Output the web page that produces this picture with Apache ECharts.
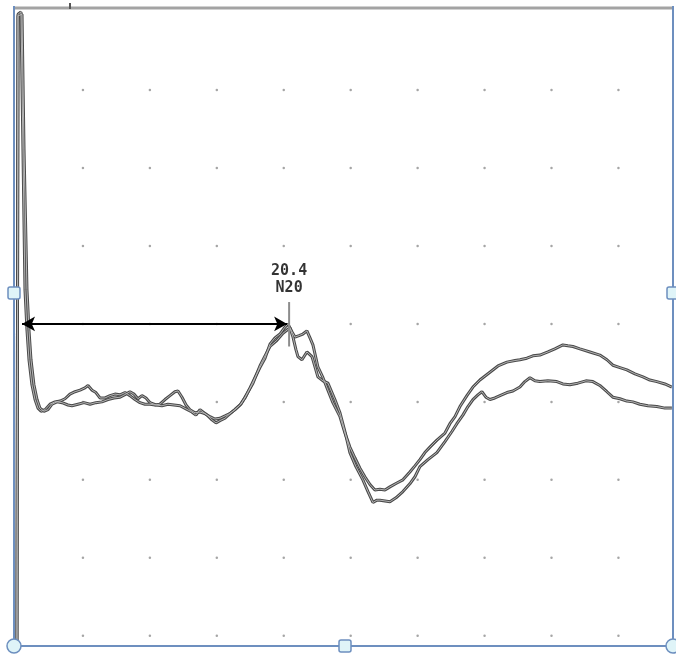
<!DOCTYPE html>
<html>
<head>
<meta charset="utf-8">
<title>N20</title>
<script src="https://cdn.jsdelivr.net/npm/echarts@6/dist/echarts.min.js"></script>
<style>
  html, body { margin: 0; padding: 0; background: #fff; }
  #chart { width: 676px; height: 657px; }
</style>
</head>
<body>
<div id="chart"></div>
<script>
// time in ms, amplitude in grid divisions
const timeA = [0.07, 0.15, 0.37, 0.52, 0.67, 0.82, 0.97, 1.19, 1.42, 1.64, 1.87, 2.17, 2.54, 2.91, 3.29, 3.66, 4.03, 4.41, 4.78, 5.15,
  5.38, 5.68, 5.97, 6.27, 6.65, 7.02, 7.39, 7.77, 8.14, 8.51, 8.89, 9.26, 9.63, 10.01, 10.38, 10.75, 11.13, 11.50, 11.87, 12.10,
  12.40, 12.70, 12.99, 13.37, 13.74, 14.11, 14.49, 14.86, 15.23, 15.61, 15.98, 16.35, 16.73, 17.10, 17.48, 17.85, 18.22, 18.60, 18.97, 19.34,
  19.72, 20.01, 20.31, 20.61, 20.84, 21.14, 21.43, 21.73, 21.96, 22.18, 22.55, 22.93, 23.23, 23.67, 24.20, 24.57, 24.94, 25.32, 25.69, 26.06,
  26.44, 26.81, 27.18, 27.56, 27.93, 28.45, 28.90, 29.42, 29.80, 30.17, 30.54, 30.92, 31.44, 32.04, 32.41, 32.79, 33.16, 33.68, 34.13, 34.65,
  35.40, 36.00, 36.67, 37.27, 37.64, 38.16, 38.61, 39.13, 39.73, 40.25, 40.85, 41.22, 41.60, 42.12, 42.87, 43.61, 44.14, 44.58, 45.11, 45.63,
  46.23, 46.83, 47.35, 47.87, 48.47, 48.99]
const ampA = [-4.18, 3.97, 4.00, 2.23, 0.44, -0.08, -0.46, -0.78, -0.97, -1.08, -1.12, -1.10, -1.03, -1.00, -0.99, -0.96, -0.90, -0.87, -0.85, -0.82,
  -0.79, -0.85, -0.88, -0.95, -0.95, -0.92, -0.90, -0.91, -0.88, -0.92, -0.97, -1.01, -1.03, -1.03, -1.04, -1.03, -0.97, -0.92, -0.87, -0.86,
  -0.94, -1.04, -1.10, -1.14, -1.13, -1.15, -1.19, -1.22, -1.21, -1.18, -1.15, -1.10, -1.04, -0.95, -0.82, -0.69, -0.56, -0.44, -0.26, -0.18,
  -0.13, -0.06, 0.00, -0.10, -0.17, -0.15, -0.13, -0.09, -0.18, -0.27, -0.55, -0.69, -0.82, -1.01, -1.19, -1.40, -1.58, -1.72, -1.85, -1.96,
  -2.06, -2.13, -2.12, -2.13, -2.09, -2.04, -2.00, -1.90, -1.82, -1.74, -1.65, -1.58, -1.49, -1.40, -1.28, -1.19, -1.06, -0.92, -0.81, -0.72,
  -0.62, -0.54, -0.49, -0.47, -0.46, -0.44, -0.41, -0.40, -0.36, -0.32, -0.27, -0.28, -0.29, -0.32, -0.36, -0.40, -0.46, -0.53, -0.56, -0.59,
  -0.64, -0.68, -0.72, -0.74, -0.77, -0.81]

const timeB = [0.07, 0.15, 0.45, 0.60, 0.82, 0.97, 1.12, 1.34, 1.57, 1.79, 2.09, 2.39, 2.69, 3.06, 3.44, 3.88, 4.18, 4.63, 5.08, 5.53,
  5.97, 6.42, 6.87, 7.32, 7.77, 8.21, 8.51, 8.81, 9.11, 9.41, 9.71, 10.01, 10.46, 10.90, 11.35, 11.80, 12.25, 12.70, 13.14, 13.44,
  13.74, 14.04, 14.34, 14.64, 14.94, 15.23, 15.61, 15.98, 16.35, 16.80, 17.18, 17.70, 18.22, 18.60, 18.97, 19.49, 19.94, 20.46, 20.69, 20.91,
  21.06, 21.36, 21.73, 22.11, 22.55, 22.93, 23.30, 23.82, 24.20, 24.57, 24.94, 25.39, 25.91, 26.29, 26.66, 26.96, 27.18, 27.56, 27.93, 28.38,
  28.90, 29.42, 29.80, 30.17, 30.77, 31.44, 32.04, 32.56, 32.93, 33.38, 33.76, 34.13, 34.50, 34.80, 35.10, 35.40, 35.77, 36.15, 36.67, 37.12,
  37.64, 38.01, 38.39, 38.76, 39.13, 39.73, 40.40, 40.85, 41.37, 41.97, 42.57, 43.09, 43.61, 44.14, 44.58, 45.11, 45.63, 46.08, 46.60, 47.20,
  47.87, 48.47, 48.99]
const ampB = [-4.18, 3.95, 3.97, 2.23, 0.44, -0.08, -0.46, -0.78, -0.97, -1.08, -1.12, -1.10, -1.03, -1.00, -1.01, -1.04, -1.05, -1.03, -1.01, -1.03,
  -1.01, -1.00, -0.97, -0.95, -0.94, -0.90, -0.87, -0.90, -0.96, -0.92, -0.95, -1.01, -1.04, -1.05, -1.03, -1.04, -1.05, -1.09, -1.13, -1.17,
  -1.10, -1.14, -1.18, -1.23, -1.27, -1.24, -1.21, -1.15, -1.10, -1.03, -0.92, -0.76, -0.54, -0.41, -0.29, -0.21, -0.12, -0.05, -0.17, -0.33,
  -0.42, -0.46, -0.36, -0.42, -0.68, -0.73, -0.76, -0.97, -1.14, -1.38, -1.65, -1.83, -2.00, -2.15, -2.29, -2.26, -2.26, -2.27, -2.28, -2.23,
  -2.15, -2.05, -1.96, -1.83, -1.74, -1.65, -1.51, -1.38, -1.28, -1.17, -1.06, -0.97, -0.91, -0.87, -0.94, -0.97, -0.95, -0.92, -0.88, -0.86,
  -0.81, -0.74, -0.69, -0.73, -0.74, -0.73, -0.74, -0.77, -0.78, -0.76, -0.73, -0.74, -0.79, -0.87, -0.94, -0.96, -0.99, -1.00, -1.03, -1.05,
  -1.06, -1.08, -1.08]

// grid dot positions
const xTicks = [5, 10, 15, 20, 25, 30, 35, 40, 45]
const yTicks = [-4, -3, -2, -1, 0, 1, 2, 3]

// latency marker
const peakTime = 20.4
const peakLabel = ['20.4', 'N20']
const arrowStart = 0.45
const arrowEnd = 20.25

const zip = (t, v) => t.map((x, i) => [x, v[i]])
const dots = []
xTicks.forEach(x => yTicks.forEach(y => dots.push([x, y])))

const frameBlue = '#6d8fbf'
const handleFill = '#dff4f8'

function traceSeries(data) {
  return [{
    type: 'line',
    data: data,
    showSymbol: false,
    silent: true,
    lineStyle: { color: '#4a4a4a', width: 3 },
    z: 3
  }, {
    type: 'line',
    data: data,
    showSymbol: false,
    silent: true,
    lineStyle: { color: '#b4b4b4', width: 1 },
    z: 4
  }]
}

const chart = echarts.init(document.getElementById('chart'))
chart.setOption({
  animation: false,
  backgroundColor: '#fff',
  grid: { left: 16, right: 4, top: 8, bottom: 11 },
  xAxis: {
    type: 'value',
    min: 0,
    max: 49,
    show: false
  },
  yAxis: {
    type: 'value',
    min: -4.13,
    max: 4.05,
    show: false
  },
  series: [
    {
      type: 'scatter',
      data: dots,
      symbolSize: 2.5,
      silent: true,
      itemStyle: { color: '#8f8f8f' },
      z: 1
    },
    ...traceSeries(zip(timeA, ampA)),
    ...traceSeries(zip(timeB, ampB)),
    {
      // marker tick at the peak
      type: 'line',
      data: [[peakTime, 0.28], [peakTime, -0.29]],
      showSymbol: false,
      silent: true,
      lineStyle: { color: '#8c8c8c', width: 2 },
      z: 5
    },
    {
      type: 'scatter',
      data: [[peakTime, 0.28]],
      symbolSize: 0,
      silent: true,
      label: {
        show: true,
        position: 'top',
        distance: 5,
        formatter: peakLabel.join('\n'),
        fontFamily: 'DejaVu Sans Mono',
        fontWeight: 'bold',
        fontSize: 15,
        lineHeight: 17,
        color: '#000'
      },
      z: 6
    },
    {
      type: 'line',
      data: [],
      silent: true,
      markLine: {
        silent: true,
        symbol: ['arrow', 'arrow'],
        symbolSize: [11, 13],
        label: { show: false },
        lineStyle: { color: '#000', width: 2, type: 'solid' },
        data: [[{ coord: [arrowStart, 0] }, { coord: [arrowEnd, 0] }]]
      },
      z: 7
    }
  ],
  graphic: [
    { type: 'line', shape: { x1: 14, y1: 8, x2: 672, y2: 8 }, style: { stroke: '#a3a3a3', lineWidth: 3 }, z: 10 },
    { type: 'line', shape: { x1: 70, y1: 3, x2: 70, y2: 9 }, style: { stroke: '#555', lineWidth: 2 }, z: 10 },
    { type: 'line', shape: { x1: 14, y1: 6, x2: 14, y2: 647 }, style: { stroke: frameBlue, lineWidth: 2 }, z: 10 },
    { type: 'line', shape: { x1: 673, y1: 6, x2: 673, y2: 647 }, style: { stroke: frameBlue, lineWidth: 2 }, z: 10 },
    { type: 'line', shape: { x1: 14, y1: 646, x2: 676, y2: 646 }, style: { stroke: frameBlue, lineWidth: 2 }, z: 10 },
    { type: 'rect', shape: { x: 8, y: 287, width: 12, height: 12, r: 2 }, style: { fill: handleFill, stroke: frameBlue, lineWidth: 1.5 }, z: 11 },
    { type: 'rect', shape: { x: 667, y: 287, width: 12, height: 12, r: 2 }, style: { fill: handleFill, stroke: frameBlue, lineWidth: 1.5 }, z: 11 },
    { type: 'rect', shape: { x: 339, y: 640, width: 12, height: 12, r: 2 }, style: { fill: handleFill, stroke: frameBlue, lineWidth: 1.5 }, z: 11 },
    { type: 'circle', shape: { cx: 14, cy: 646, r: 7 }, style: { fill: handleFill, stroke: frameBlue, lineWidth: 1.5 }, z: 11 },
    { type: 'circle', shape: { cx: 673, cy: 646, r: 7 }, style: { fill: handleFill, stroke: frameBlue, lineWidth: 1.5 }, z: 11 }
  ]
})
</script>
</body>
</html>
